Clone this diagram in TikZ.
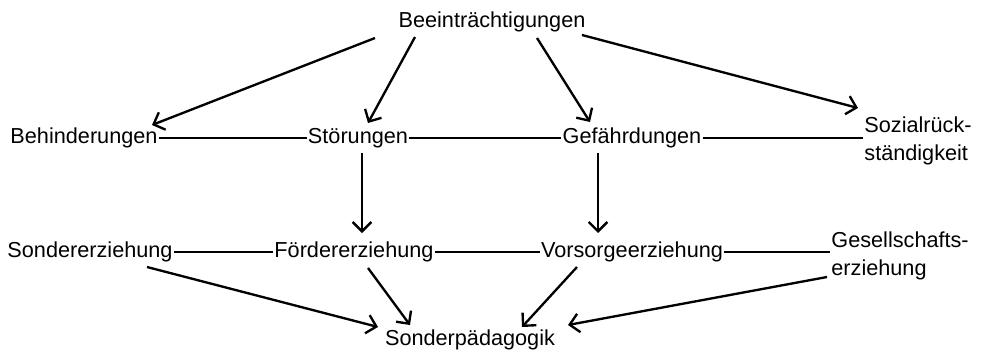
\documentclass[tikz,border=0pt]{standalone}
\usepackage{fontspec}
\setmainfont{Liberation Sans}
\usetikzlibrary{arrows.meta}

\begin{document}
\begin{tikzpicture}[
  lbl/.style={inner sep=1pt, font=\fontsize{18.5}{24}\selectfont},
  arr/.style={line width=2pt, -{Straight Barb[length=2.8mm, width=5.6mm, line width=2pt]}},
  link/.style={line width=1.5pt}
]
\useasboundingbox (0, 0) rectangle (29.52, -10.47);

\node[lbl] (bee) at (14.76, -0.66) {Beeinträchtigungen};

\node[lbl] (beh) at (2.52, -4.14) {Behinderungen};
\node[lbl] (sto) at (10.74, -4.14) {Störungen};
\node[lbl] (gef) at (18.96, -4.14) {Gefährdungen};
\node[lbl, anchor=west, align=left] (soz) at (25.89, -4.23) {Sozialrück-\\ständigkeit};

\node[lbl] (sond) at (2.7, -7.56) {Sondererziehung};
\node[lbl] (foe) at (10.62, -7.56) {Fördererziehung};
\node[lbl] (vor) at (18.96, -7.56) {Vorsorgeerziehung};
\node[lbl, anchor=west, align=left] (ges) at (24.9, -7.68) {Gesellschafts-\\erziehung};

\node[lbl] (sp) at (14.1, -10.2) {Sonderpädagogik};

% from the top
\draw[arr] ([xshift=-3.51cm, yshift=-0.48cm]bee.center) -- ([xshift=2.04cm, yshift=0.39cm]beh.center);
\draw[arr] ([xshift=-2.31cm, yshift=-0.45cm]bee.center) -- ([xshift=0.3cm, yshift=0.45cm]sto.center);
\draw[arr] ([xshift=1.35cm, yshift=-0.48cm]bee.center) -- ([xshift=-1.26cm, yshift=0.48cm]gef.center);
\draw[arr] ([xshift=2.7cm, yshift=-0.39cm]bee.center) -- ([xshift=-0.15cm, yshift=0.99cm]soz.west);

% middle row
\draw[link] (beh.east) -- (sto.west);
\draw[link] (sto.east) -- (gef.west);
\draw[link] (gef.east) -- (soz.west |- gef.east);

\draw[arr] ([xshift=0.12cm, yshift=-0.45cm]sto.center) -- ([xshift=0.24cm, yshift=0.57cm]foe.center);
\draw[arr] ([xshift=-1.02cm, yshift=-0.45cm]gef.center) -- ([xshift=-1.02cm, yshift=0.57cm]vor.center);

% lower row
\draw[link] (sond.east) -- (foe.west);
\draw[link] (foe.east) -- (vor.west);
\draw[link] (vor.east) -- (ges.west |- vor.east);

\draw[arr] ([xshift=1.71cm, yshift=-0.45cm]sond.center) -- ([xshift=-2.76cm, yshift=0.39cm]sp.center);
\draw[arr] ([xshift=0.42cm, yshift=-0.48cm]foe.center) -- ([xshift=-1.8cm, yshift=0.45cm]sp.center);
\draw[arr] ([xshift=-1.65cm, yshift=-0.45cm]vor.center) -- ([xshift=1.56cm, yshift=0.39cm]sp.center);
\draw[arr] ([xshift=-0.09cm, yshift=-0.63cm]ges.west) -- ([xshift=2.94cm, yshift=0.45cm]sp.center);

\end{tikzpicture}
\end{document}
